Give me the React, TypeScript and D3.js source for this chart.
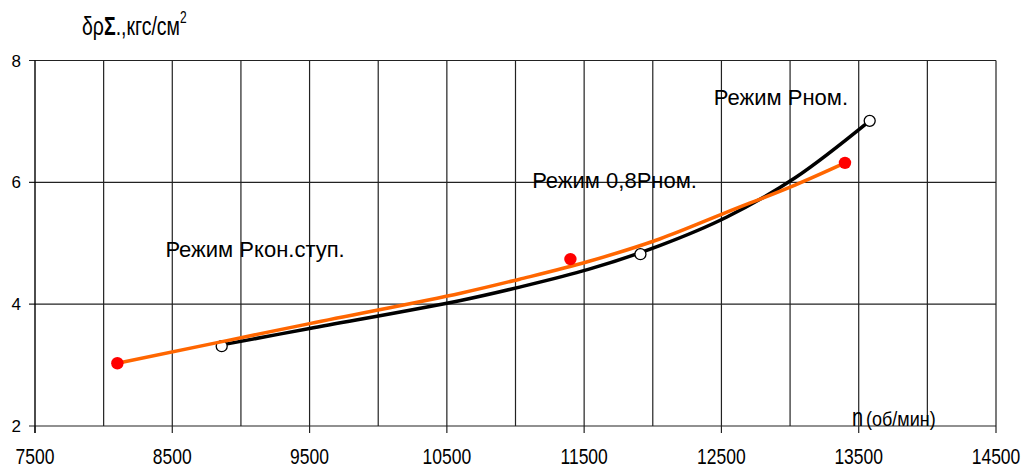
import React from 'react';
import * as d3 from 'd3';

// measured points (hollow circles) and their trend curve
const blackPoints = [
  { n: 8860, p: 3.31 },
  { n: 11910, p: 4.82 },
  { n: 13580, p: 7.01 },
];
const blackCurve = [
  { n: 8880, p: 3.34 },
  { n: 9500, p: 3.6 },
  { n: 10600, p: 4.06 },
  { n: 11030, p: 4.28 },
  { n: 11530, p: 4.57 },
  { n: 12050, p: 4.96 },
  { n: 12540, p: 5.43 },
  { n: 13040, p: 6.08 },
  { n: 13580, p: 7.01 },
];

// red points and orange trend
const redPoints = [
  { n: 8100, p: 3.03 },
  { n: 11400, p: 4.74 },
  { n: 13400, p: 6.32 },
];
const orangeCurve = [
  { n: 8100, p: 3.03 },
  { n: 9500, p: 3.68 },
  { n: 10600, p: 4.18 },
  { n: 11030, p: 4.41 },
  { n: 11530, p: 4.7 },
  { n: 12050, p: 5.07 },
  { n: 12540, p: 5.51 },
  { n: 13040, p: 5.96 },
  { n: 13400, p: 6.32 },
];

const xTicks = [7500, 8500, 9500, 10500, 11500, 12500, 13500, 14500];
const xGrid = [8000, 8500, 9000, 9500, 10000, 10500, 11000, 11500, 12000, 12500, 13000, 13500, 14000, 14500];
const yTicks = [2, 4, 6, 8];

const notes = [
  { text: 'Режим Ркон.ступ.', n: 8450, p: 4.78, anchor: 'start' },
  { text: 'Режим 0,8Рном.', n: 12322, p: 5.91, anchor: 'end' },
  { text: 'Режим Рном.', n: 13422, p: 7.27, anchor: 'end' },
];

const font = '"Liberation Sans", Arial, sans-serif';

export default function App() {
  const width = 1030;
  const height = 468;

  const x = d3.scaleLinear().domain([7500, 14500]).range([35, 996]);
  const y = d3.scaleLinear().domain([2, 8]).range([426, 60.5]);

  const line = d3
    .line<{ n: number; p: number }>()
    .x((d) => x(d.n))
    .y((d) => y(d.p))
    .curve(d3.curveCatmullRom);

  return (
    <svg
      width={width}
      height={height}
      style={{ position: 'absolute', left: 0, top: 0, background: '#fff' }}
      fontFamily={font}
    >
      {/* grid */}
      {xGrid.map((v) => (
        <line key={'gx' + v} x1={x(v)} x2={x(v)} y1={y(8)} y2={y(2)} stroke="#222" strokeWidth={1.2} />
      ))}
      {yTicks.map((v) => (
        <line key={'gy' + v} x1={x(7500) - 6} x2={x(14500)} y1={y(v)} y2={y(v)} stroke="#222" strokeWidth={1.2} />
      ))}
      {/* axes */}
      <line x1={x(7500)} x2={x(7500)} y1={y(8)} y2={y(2) + 7} stroke="#000" strokeWidth={1.4} />
      {xTicks.map((v) => (
        <line key={'tx' + v} x1={x(v)} x2={x(v)} y1={y(2)} y2={y(2) + 7} stroke="#222" strokeWidth={1.2} />
      ))}

      {yTicks.map((v) => (
        <text key={'ly' + v} x={21} y={y(v) + 6} textAnchor="end" fontSize={17} fill="#000">
          {v}
        </text>
      ))}
      {xTicks.map((v) => (
        <text
          key={'lx' + v}
          transform={`translate(${x(v)},${464}) scale(1,1.27)`}
          textAnchor="middle"
          fontSize={17.5}
          fill="#000"
        >
          {v}
        </text>
      ))}

      {/* axis titles */}
      <text transform="translate(82,35) scale(1,1.3)" fontSize={19.5} fill="#000">
        <tspan>δρ</tspan>
        <tspan fontWeight="bold">Σ</tspan>
        <tspan>.,кгс/см</tspan>
        <tspan fontSize={12} dy={-9}>2</tspan>
      </text>
      <text transform="translate(852,426) scale(1,1.3)" fontSize={20} fill="#000">
        n
      </text>
      <text transform="translate(866,426) scale(1,1.1)" fontSize={18} fill="#000">
        (об/мин)
      </text>

      {/* series */}
      <path d={line(blackCurve) || ''} fill="none" stroke="#000" strokeWidth={3.5} />
      {blackPoints.map((d, i) => (
        <circle key={'bp' + i} cx={x(d.n)} cy={y(d.p)} r={5.5} fill="#fff" stroke="#000" strokeWidth={1.3} />
      ))}
      <path d={line(orangeCurve) || ''} fill="none" stroke="#ff6600" strokeWidth={3.5} />
      {redPoints.map((d, i) => (
        <circle key={'rp' + i} cx={x(d.n)} cy={y(d.p)} r={6.2} fill="#ff0000" />
      ))}

      {notes.map((d) => (
        <text
          key={d.text}
          x={x(d.n)}
          y={y(d.p)}
          textAnchor={d.anchor}
          fontSize={22}
          fill="#000"
        >
          {d.text}
        </text>
      ))}
    </svg>
  );
}
